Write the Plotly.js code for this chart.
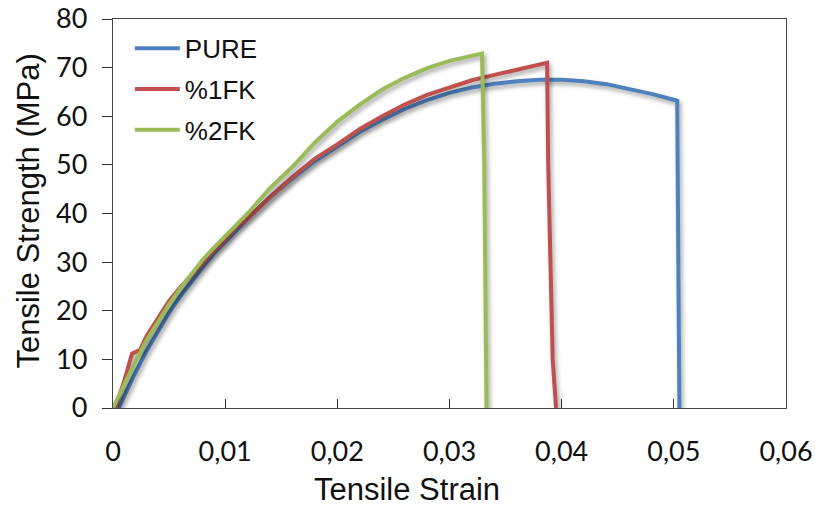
<!DOCTYPE html>
<html>
<head>
<meta charset="utf-8">
<script src="https://cdn.plot.ly/plotly-3.0.1.min.js"></script>
<style>
html,body{margin:0;padding:0;background:#fff;}
#chart{width:815px;height:506px;}
.scatterlayer .trace path.js-line{filter:drop-shadow(2px 3px 2px rgba(0,0,0,0.35));}
</style>
</head>
<body>
<div id="chart"></div>
<script>
// Tensile strain values (x) and tensile strength (MPa) values (y)
const pureStrain = [0.0005, 0.001, 0.002, 0.003, 0.004, 0.005, 0.006, 0.007, 0.008, 0.009, 0.010, 0.012, 0.014, 0.016, 0.018, 0.020, 0.022, 0.024, 0.026, 0.028, 0.030, 0.032, 0.034, 0.036, 0.038, 0.040, 0.042, 0.044, 0.046, 0.048, 0.050, 0.0503, 0.0504, 0.0505];
const pureStress = [0, 2.5, 7.3, 11.8, 15.9, 19.6, 23.0, 26.1, 29.0, 31.8, 34.3, 39.0, 43.3, 47.2, 50.8, 53.9, 56.8, 59.3, 61.5, 63.3, 64.8, 65.9, 66.7, 67.2, 67.5, 67.5, 67.2, 66.6, 65.7, 64.6, 63.4, 63.2, 30, 0];

const fk1Strain = [0.0002, 0.001, 0.0017, 0.0024, 0.003, 0.004, 0.005, 0.006, 0.007, 0.008, 0.009, 0.010, 0.011, 0.012, 0.014, 0.016, 0.018, 0.020, 0.022, 0.024, 0.026, 0.028, 0.030, 0.032, 0.034, 0.036, 0.038, 0.0387, 0.0388, 0.0390, 0.0392, 0.0395];
const fk1Stress = [0, 5.5, 11.2, 11.9, 14.8, 18.5, 22.0, 24.8, 27.4, 29.8, 32.3, 34.6, 37.2, 39.0, 43.4, 47.5, 51.3, 54.2, 57.4, 60.0, 62.4, 64.4, 66.0, 67.4, 68.5, 69.6, 70.6, 71.0, 50, 25, 10, 0];

const fk2Strain = [0, 0.001, 0.002, 0.003, 0.004, 0.005, 0.006, 0.007, 0.008, 0.009, 0.010, 0.012, 0.014, 0.016, 0.018, 0.020, 0.022, 0.024, 0.026, 0.028, 0.030, 0.032, 0.0329, 0.0331, 0.0332, 0.0333];
const fk2Stress = [0, 5.0, 9.6, 14.0, 17.8, 21.3, 24.6, 27.6, 30.5, 33.0, 35.3, 40.0, 45.2, 49.6, 54.6, 58.9, 62.4, 65.5, 67.9, 69.9, 71.4, 72.5, 72.9, 50, 20, 0];

const seriesNames = ['PURE', '%1FK', '%2FK'];
const seriesColors = ['#4F81BD', '#C0504D', '#9BBB59'];
const xTickVals = [0, 0.01, 0.02, 0.03, 0.04, 0.05, 0.06];
const xTickText = ['0', '0,01', '0,02', '0,03', '0,04', '0,05', '0,06'];
const yTickVals = [0, 10, 20, 30, 40, 50, 60, 70, 80];
const xTitle = 'Tensile Strain';
const yTitle = 'Tensile Strength (MPa)';

const xs = [pureStrain, fk1Strain, fk2Strain];
const ys = [pureStress, fk1Stress, fk2Stress];

const traces = seriesNames.map((n, i) => ({
  type: 'scatter', mode: 'lines', name: n,
  x: xs[i], y: ys[i], legendgroup: 'g' + i,
  line: {color: seriesColors[i], width: 4, shape: 'linear'}
}));

const tickFont = {family: 'Lato, Open Sans, sans-serif', size: 27, color: '#111'};
const titleFont = {family: 'Liberation Sans, Arial, sans-serif', size: 31, color: '#111'};

const layout = {
  width: 815, height: 506,
  margin: {l: 113, r: 29, t: 19, b: 98},
  paper_bgcolor: '#fff', plot_bgcolor: '#fff',
  showlegend: true,
  legend: {x: 0.025, y: 0.985, xanchor: 'left', yanchor: 'top',
    font: {family: 'Liberation Sans, Arial, sans-serif', size: 26, color: '#111'},
    bgcolor: 'rgba(0,0,0,0)', tracegroupgap: 4, itemwidth: 45},
  xaxis: {
    range: [0, 0.06], tickvals: xTickVals, ticktext: xTickText,
    ticks: 'inside', ticklen: 9, tickcolor: '#333', tickwidth: 1,
    showline: true, linecolor: '#444', linewidth: 1.3, mirror: true,
    showgrid: false, zeroline: false, tickfont: tickFont, ticklabelstandoff: 19,
    ticklabeloverflow: 'allow'
  },
  yaxis: {
    range: [0, 80], tickvals: yTickVals,
    ticks: 'outside', ticklen: 10, tickcolor: '#333', tickwidth: 1,
    showline: true, linecolor: '#444', linewidth: 1.3, mirror: true,
    showgrid: false, zeroline: false, tickfont: tickFont, ticklabelstandoff: 9,
    ticklabeloverflow: 'allow'
  },
  annotations: [
    {text: xTitle, xref: 'paper', yref: 'paper', x: 0.437, y: 0, yshift: -81,
     xanchor: 'center', yanchor: 'middle', showarrow: false, font: titleFont},
    {text: yTitle, xref: 'paper', yref: 'paper', x: 0, y: 0.5, xshift: -85, yshift: 2,
     xanchor: 'center', yanchor: 'middle', textangle: -90, showarrow: false, font: titleFont}
  ]
};

Plotly.newPlot('chart', traces, layout, {displayModeBar: false, staticPlot: true});
</script>
</body>
</html>
